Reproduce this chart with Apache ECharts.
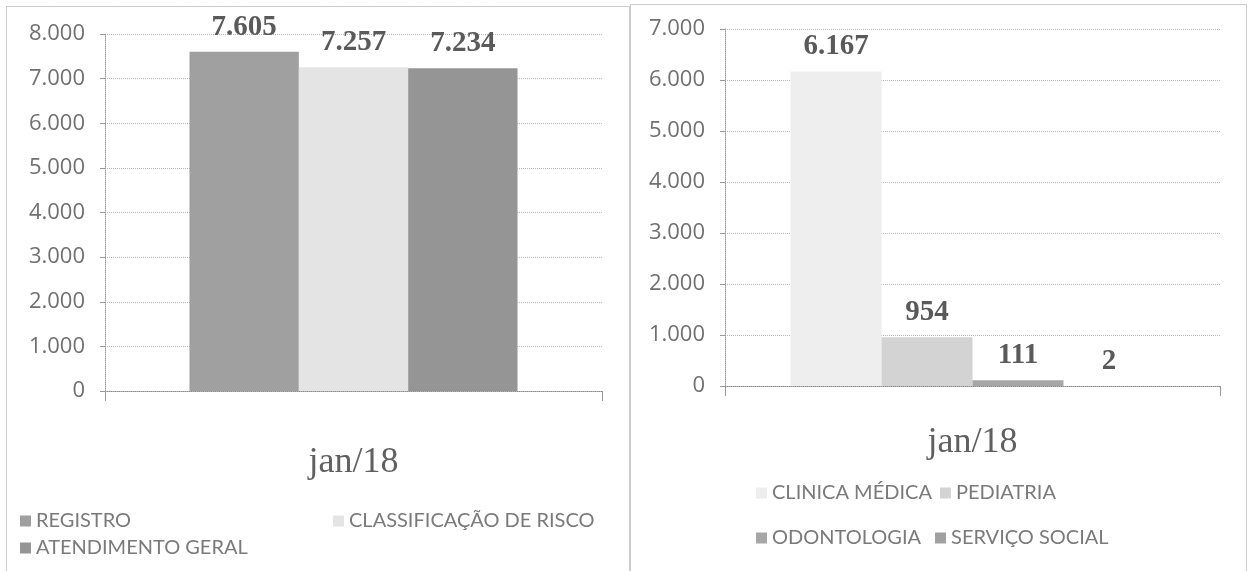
<!DOCTYPE html>
<html>
<head>
<meta charset="utf-8">
<script src="https://cdn.jsdelivr.net/npm/echarts@6/dist/echarts.min.js"></script>
<style>
html,body{margin:0;padding:0;background:#fff;}
#c{width:1248px;height:571px;}
</style>
</head>
<body>
<div id="c"></div>
<script>
// ---- data ----
const categories = ['jan/18'];
const leftSeriesNames = ['REGISTRO', 'CLASSIFICAÇÃO DE RISCO', 'ATENDIMENTO GERAL'];
const leftValues = [7605, 7257, 7234];
const rightSeriesNames = ['CLINICA MÉDICA', 'PEDIATRIA', 'ODONTOLOGIA', 'SERVIÇO SOCIAL'];
const rightValues = [6167, 954, 111, 2];
const leftAxisMax = 8000;
const rightAxisMax = 7000;
const axisStep = 1000;

// ---- styles ----
const leftColors = ['#a0a0a0', '#e4e4e4', '#959595'];
const rightColors = ['#eeeeee', '#d3d3d3', '#a6a6a6', '#a0a0a0'];

function fmt(v) {
  return String(v).replace(/\B(?=(\d{3})+(?!\d))/g, '.');
}

const tickFont = {color: '#707070', fontFamily: 'Open Sans', fontSize: 22};
const labelStyle = {
  show: true, position: 'top', distance: 10,
  fontFamily: 'Liberation Serif', fontWeight: 'bold', fontSize: 29, color: '#5a5a5a',
  formatter: p => fmt(p.value)
};

function yAxisDef(gridIndex, max) {
  return {
    type: 'value', gridIndex, min: 0, max, interval: axisStep,
    axisLine: {show: true, lineStyle: {color: '#9a9a9a', type: 'dotted', width: 1}},
    axisTick: {show: true, length: 5, lineStyle: {color: '#9a9a9a'}},
    axisLabel: Object.assign({margin: 20, formatter: v => fmt(v)}, tickFont),
    splitLine: {show: true, lineStyle: {color: '#b8b8b8', type: 'dotted', width: 1}}
  };
}
function xAxisDef(gridIndex, margin) {
  return {
    type: 'category', gridIndex, data: categories,
    axisLine: {show: true, lineStyle: {color: '#8a8a8a', type: 'dotted', width: 1}},
    axisTick: {show: true, length: 10, lineStyle: {color: '#9a9a9a'}},
    axisLabel: {margin, fontFamily: 'Liberation Serif', fontSize: 36, color: '#606060'}
  };
}

const series = [];
leftSeriesNames.forEach((n, i) => {
  series.push({
    name: n, type: 'bar', xAxisIndex: 0, yAxisIndex: 0,
    data: [leftValues[i]], barGap: '0%', barCategoryGap: '34%',
    itemStyle: {color: leftColors[i]}, label: labelStyle
  });
});
rightSeriesNames.forEach((n, i) => {
  series.push({
    name: n, type: 'bar', xAxisIndex: 1, yAxisIndex: 1,
    data: [rightValues[i]], barGap: '0%', barCategoryGap: '26.5%',
    itemStyle: {color: rightColors[i]}, label: labelStyle
  });
});

const legendText = {color: '#7a7a7a', fontFamily: 'Lato', fontSize: 20};
function leg(names, left, top, gap) {
  return {
    data: names, left, top, orient: 'horizontal', icon: 'rect',
    itemWidth: 11, itemHeight: 11, itemGap: gap || 0, selectedMode: false,
    textStyle: legendText, padding: 0
  };
}

const option = {
  animation: false,
  backgroundColor: '#fff',
  grid: [
    {left: 105, right: 1248 - 602, top: 34, bottom: 571 - 391},
    {left: 725, right: 1248 - 1220, top: 29, bottom: 571 - 386}
  ],
  xAxis: [xAxisDef(0, 54), xAxisDef(1, 39)],
  yAxis: [yAxisDef(0, leftAxisMax), yAxisDef(1, rightAxisMax)],
  legend: [
    leg([leftSeriesNames[0]], 20, 511),
    leg([leftSeriesNames[1]], 333, 511),
    leg([leftSeriesNames[2]], 20, 538),
    leg([rightSeriesNames[0], rightSeriesNames[1]], 756, 483, 8),
    leg([rightSeriesNames[2], rightSeriesNames[3]], 756, 528, 14)
  ],
  graphic: [
    {type: 'rect', shape: {x: 6.5, y: 6.5, width: 623, height: 600}, style: {fill: 'none', stroke: '#999', lineWidth: 1, lineDash: [1, 1]}, silent: true},
    {type: 'rect', shape: {x: 630.5, y: 4.5, width: 616, height: 600}, style: {fill: 'none', stroke: '#999', lineWidth: 1, lineDash: [1, 1]}, silent: true}
  ],
  series
};

const chart = echarts.init(document.getElementById('c'), null, {renderer: 'canvas'});
chart.setOption(option);
</script>
</body>
</html>
